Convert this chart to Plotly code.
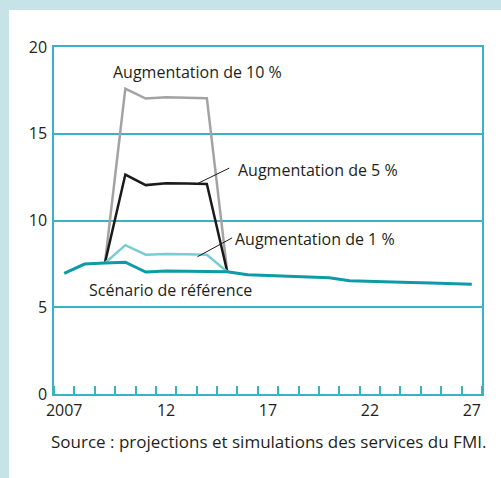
import plotly.graph_objects as go

years = list(range(2007, 2028))
baseline = [6.95, 7.49, 7.55, 7.6, 7.03, 7.09, 7.07, 7.07, 7.05, 6.87, 6.82, 6.76, 6.72, 6.70,
            6.53, 6.51, 6.47, 6.43, 6.40, 6.36, 6.32]
shock_years = [2009, 2010, 2011, 2012, 2013, 2014, 2015]
aug1 = [7.55, 8.58, 8.03, 8.07, 8.06, 8.02, 7.05]
aug5 = [7.55, 12.65, 12.04, 12.15, 12.13, 12.1, 7.05]
aug10 = [7.55, 17.6, 17.03, 17.1, 17.08, 17.05, 7.05]

x_tickvals = [2007, 2012, 2017, 2022, 2027]
x_ticktext = ["2007", "12", "17", "22", "27"]
y_tickvals = [0, 5, 10, 15, 20]

FONT = "Open Sans"
TXT = "#231f20"
TEAL_GRID = "#38b3bf"
TEAL_BASE = "#0d9ba5"
TEAL_LIGHT = "#78cdd4"
GREY = "#a3a3a3"
BG = "#c6e4e7"

fig = go.Figure()
fig.add_trace(go.Scatter(x=shock_years, y=aug10, mode="lines",
                         line=dict(color=GREY, width=2.5)))
fig.add_trace(go.Scatter(x=shock_years, y=aug5, mode="lines",
                         line=dict(color="#1a1a1a", width=2.5)))
fig.add_trace(go.Scatter(x=shock_years, y=aug1, mode="lines",
                         line=dict(color=TEAL_LIGHT, width=2.5)))
fig.add_trace(go.Scatter(x=years, y=baseline, mode="lines",
                         line=dict(color=TEAL_BASE, width=3)))
# invisible trace on label axis
fig.add_trace(go.Scatter(x=[2007], y=[0], mode="markers", marker=dict(opacity=0),
                         xaxis="x2", yaxis="y", hoverinfo="skip"))

W, H = 501, 478
ml, mr, mt, mb = 54, 19, 47, 84
pw, ph = W - ml - mr, H - mt - mb

def px(x):
    return (x - ml) / pw

def py(y):
    return (H - mb - y) / ph

shapes = [
    dict(type="rect", xref="paper", yref="paper", x0=px(0), x1=px(W), y0=py(0), y1=py(10),
         fillcolor=BG, line=dict(width=0), layer="below"),
    dict(type="rect", xref="paper", yref="paper", x0=px(0), x1=px(9), y0=py(H), y1=py(0),
         fillcolor=BG, line=dict(width=0), layer="below"),
    dict(type="line", xref="x", yref="y", x0=2013.58, y0=12.15, x1=2015.1, y1=13.02,
         line=dict(color="#1a1a1a", width=1)),
    dict(type="line", xref="x", yref="y", x0=2013.54, y0=7.91, x1=2015.24, y1=9.0,
         line=dict(color="#1a1a1a", width=1)),
]

ann_font = dict(family=FONT, size=16, color=TXT)
annotations = [
    dict(x=2013.55, y=18.55, xref="x", yref="y", text="Augmentation de 10 %", showarrow=False,
         xanchor="center", yanchor="middle", font=ann_font),
    dict(x=2015.45, y=12.9, xref="x", yref="y", text="Augmentation de 5 %", showarrow=False,
         xanchor="left", yanchor="middle", font=ann_font),
    dict(x=2015.3, y=8.93, xref="x", yref="y", text="Augmentation de 1 %", showarrow=False,
         xanchor="left", yanchor="middle", font=ann_font),
    dict(x=2008.14, y=5.99, xref="x", yref="y", text="Scénario de référence", showarrow=False,
         xanchor="left", yanchor="middle", font=ann_font),
    dict(x=px(268.5), y=py(441), xref="paper", yref="paper",
         text="Source : projections et simulations des services du FMI.", showarrow=False,
         xanchor="center", yanchor="middle", font=dict(family=FONT, size=17, color=TXT)),
]

fig.update_layout(
    width=W, height=H,
    margin=dict(l=ml, r=mr, t=mt, b=mb, autoexpand=False),
    paper_bgcolor="white", plot_bgcolor="white",
    showlegend=False,
    font=dict(family=FONT, size=16, color=TXT),
    xaxis=dict(range=[2006.5, 2027.5], tickmode="array", tickvals=[], showticklabels=False,
               showgrid=False, zeroline=False, showline=True, linecolor=TEAL_GRID, linewidth=2,
               mirror=True, ticks="",
               minor=dict(ticks="inside", tick0=2006.5, dtick=1, ticklen=8, tickwidth=1.5,
                          tickcolor=TEAL_GRID, showgrid=False)),
    xaxis2=dict(range=[2006.5, 2027.5], overlaying="x", side="bottom", tickmode="array",
                tickvals=x_tickvals, ticktext=x_ticktext, ticks="", showgrid=False,
                zeroline=False, showline=False, ticklabelstandoff=5,
                tickfont=dict(family=FONT, size=16, color=TXT)),
    yaxis=dict(range=[0, 20], tickmode="array", tickvals=y_tickvals, ticks="",
               showgrid=True, gridcolor=TEAL_GRID, gridwidth=1.5, zeroline=False,
               showline=True, linecolor=TEAL_GRID, linewidth=1.5, mirror=True,
               ticklabelstandoff=2, tickfont=dict(family=FONT, size=16, color=TXT)),
    shapes=shapes,
    annotations=annotations,
)

fig.write_html("out.html", config={"displayModeBar": False},
               post_script="document.body.style.margin='0';document.body.style.overflow='hidden';")
